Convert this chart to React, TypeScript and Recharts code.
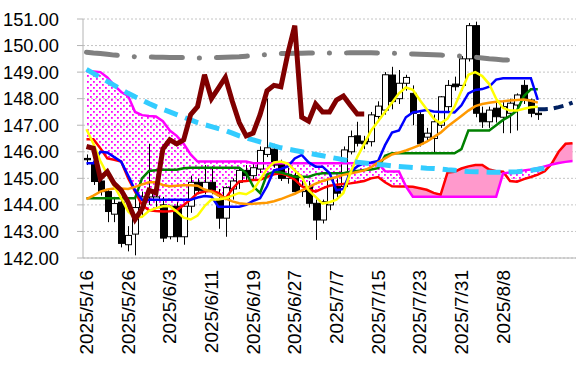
import React from 'react';
import { ComposedChart, XAxis, YAxis, CartesianGrid, Line, Area, Bar } from 'recharts';

const labels = [
  '2025/5/16','2025/5/19','2025/5/20','2025/5/21','2025/5/22','2025/5/23',
  '2025/5/26','2025/5/27','2025/5/28','2025/5/29','2025/5/30','2025/6/2',
  '2025/6/3','2025/6/4','2025/6/5','2025/6/6','2025/6/9','2025/6/10',
  '2025/6/11','2025/6/12','2025/6/13','2025/6/16','2025/6/17','2025/6/18',
  '2025/6/19','2025/6/20','2025/6/23','2025/6/24','2025/6/25','2025/6/26',
  '2025/6/27','2025/6/30','2025/7/1','2025/7/2','2025/7/3','2025/7/4',
  '2025/7/7','2025/7/8','2025/7/9','2025/7/10','2025/7/11','2025/7/14',
  '2025/7/15','2025/7/16','2025/7/17','2025/7/18','2025/7/21','2025/7/22',
  '2025/7/23','2025/7/24','2025/7/25','2025/7/28','2025/7/29','2025/7/30',
  '2025/7/31','2025/8/1','2025/8/4','2025/8/5','2025/8/6','2025/8/7',
  '2025/8/8','2025/8/11','2025/8/12','2025/8/13','2025/8/14','2025/8/15',
  '','','','',''
];

const yTicks = [142, 143, 144, 145, 146, 147, 148, 149, 150, 151];

const opens = [
  145.75,145.55,144.9,144.5,143.65,144.1,142.5,142.9,143.9,144.3,
  144.2,144.0,142.8,143.95,142.8,143.95,144.85,144.55,144.85,144.2,
  143.5,144.6,144.85,145.3,145.1,145.35,145.9,146.1,145.55,145.0,
  145.1,144.5,144.69,144.06,143.43,144.0,144.69,144.69,146.0,146.6,
  146.4,146.38,147.33,147.57,148.89,148.0,148.58,148.2,147.4,146.55,
  146.5,147.0,147.7,148.55,148.5,149.5,150.75,147.45,147.13,147.64,
  147.3,147.45,147.76,148.5,147.95,147.45
];
const highs = [
  145.9,145.7,145.0,144.6,144.3,144.3,143.2,144.3,144.5,146.3,
  144.5,144.3,144.0,144.1,144.0,145.1,145.0,145.5,145.45,144.6,
  144.7,145.0,145.4,145.5,145.6,146.2,148.0,146.3,145.7,145.4,
  145.3,144.9,144.9,144.2,144.2,145.2,145.0,146.2,146.8,147.13,
  146.6,147.5,147.9,149.0,149.2,149.08,148.9,148.5,147.5,146.9,
  147.4,148.1,148.7,148.83,149.6,150.85,150.9,147.7,147.7,147.9,
  147.9,148.0,148.2,148.7,148.0,147.6
];
const lows = [
  145.5,144.75,144.35,143.35,143.35,142.4,142.25,142.1,143.6,144.0,
  143.9,142.6,142.7,142.6,142.5,143.7,144.4,144.4,144.4,143.1,
  142.8,144.2,144.6,144.9,144.9,145.2,145.8,145.4,144.9,144.8,
  144.4,144.3,143.9,142.68,143.3,143.8,144.3,144.5,145.9,146.2,
  146.1,146.2,147.2,147.4,147.6,147.8,148.3,147.0,146.2,146.4,
  145.95,146.9,147.5,148.3,148.3,149.4,147.3,146.9,146.9,147.1,
  146.7,146.7,146.8,147.8,147.3,147.2
];
const closes = [
  145.7,144.88,144.5,143.75,144.05,142.55,142.85,143.9,144.3,144.5,
  144.3,142.75,143.95,142.8,143.95,144.85,144.55,144.85,144.55,143.5,
  144.65,144.9,145.3,145.1,145.4,146.05,146.15,145.5,145.0,145.15,
  144.5,144.7,144.06,143.43,144.12,144.95,144.44,146.07,146.57,146.32,
  146.3,147.39,147.72,148.9,147.89,148.58,148.8,147.45,146.3,146.7,
  147.13,148.07,148.5,148.45,149.5,150.75,147.45,147.13,147.57,147.32,
  147.7,147.83,148.14,147.95,147.45,147.4
];

const spanA = [
  146.47,146.47,146.13,145.75,145.7,145.63,145.0,144.5,144.0,143.8,
  143.77,143.75,143.76,143.8,144.0,144.2,144.44,144.5,144.53,144.45,
  144.23,144.6,144.88,144.9,144.94,144.95,145.05,145.15,145.19,145.1,
  144.95,144.7,144.58,144.5,144.62,144.72,144.76,144.79,144.81,144.85,
  144.9,145.0,145.05,144.85,144.7,144.69,144.69,144.68,144.63,144.57,
  144.45,144.38,145.22,145.25,145.37,145.45,145.5,145.5,145.33,145.27,
  145.25,144.9,144.87,144.97,145.05,145.14,145.27,145.55,146.0,146.3,
  146.32
];
const spanB = [
  149.02,149.02,149.0,148.8,148.5,148.25,148.1,147.5,147.38,147.35,
  147.33,147.15,146.8,146.6,146.3,145.9,145.63,145.63,145.63,145.63,
  145.63,145.63,145.63,145.63,145.57,145.57,145.57,145.57,145.57,145.57,
  145.57,145.57,145.57,145.57,145.57,145.57,145.57,145.57,145.57,145.57,
  145.57,145.57,145.57,145.27,145.26,145.26,144.7,144.31,144.31,144.31,
  144.31,144.31,144.31,144.31,144.31,144.31,144.31,144.31,144.31,144.31,
  145.19,145.22,145.25,145.3,145.33,145.38,145.45,145.52,145.58,145.62,
  145.65
];
const tenkan = [
  145.57,145.57,146.0,145.97,145.8,145.63,145.1,144.55,144.19,144.19,
  144.19,144.19,144.19,144.19,144.19,144.19,144.28,144.33,144.31,143.93,
  143.93,143.93,143.93,144.0,144.15,144.25,144.7,145.3,145.35,145.45,
  145.75,145.88,145.6,145.44,145.44,145.2,144.55,144.6,145.25,145.45,
  145.57,145.6,145.65,146.25,146.72,146.8,147.3,147.48,147.53,147.57,
  147.52,147.5,147.5,147.48,147.75,148.2,148.33,148.36,148.45,148.72,
  148.77,148.77,148.77,148.77,148.77,147.95
];
const kijun = [
  144.25,144.25,144.25,144.25,144.25,144.25,144.25,144.25,145.0,145.28,
  145.3,145.32,145.32,145.32,145.38,145.4,145.4,145.4,145.4,145.4,
  145.4,145.4,145.4,145.2,144.7,144.45,145.15,145.25,145.22,145.15,
  145.06,145.06,145.06,145.15,145.19,145.19,145.19,145.19,145.25,145.28,
  145.31,145.33,145.38,145.85,145.94,145.94,145.94,145.94,145.94,145.94,
  145.94,145.94,145.94,145.94,146.1,146.8,146.8,146.8,146.8,147.0,
  147.2,147.35,147.55,148.1,148.35,148.35
];
const ma5 = [
  146.85,146.3,145.65,145.15,144.7,144.25,143.75,143.52,143.55,143.78,
  143.88,143.95,143.95,143.75,143.52,143.45,143.6,143.95,144.2,144.2,
  144.25,144.35,144.45,144.4,144.55,144.95,145.35,145.6,145.63,145.55,
  145.3,145.05,144.55,144.3,144.05,144.1,144.2,144.45,145.2,145.8,
  146.3,146.8,147.15,147.5,147.85,148.2,148.42,148.33,147.95,147.6,
  147.25,147.07,147.25,147.7,148.3,148.9,149.0,148.85,148.55,148.0,
  147.65,147.55,147.55,147.62,147.68,147.7
];
const ma25 = [
  144.22,144.35,144.5,144.58,144.62,144.62,144.6,144.68,144.77,144.85,
  144.85,144.75,144.7,144.72,144.74,144.74,144.72,144.58,144.5,144.35,
  144.25,144.13,144.06,144.03,144.04,144.06,144.08,144.14,144.22,144.32,
  144.42,144.55,144.67,144.8,144.9,144.98,145.05,145.13,145.18,145.24,
  145.3,145.42,145.6,145.75,145.9,145.97,146.05,146.15,146.25,146.38,
  146.55,146.72,146.95,147.15,147.35,147.55,147.72,147.8,147.85,147.88,
  147.9,147.93,147.95,147.97,147.92,147.85
];
const ma75 = [
  149.1,148.95,148.8,148.65,148.5,148.35,148.2,148.07,147.95,147.82,
  147.7,147.6,147.5,147.4,147.3,147.2,147.1,147.02,146.95,146.87,
  146.8,146.7,146.6,146.52,146.45,146.37,146.3,146.22,146.15,146.1,
  146.05,146.0,145.95,145.9,145.85,145.8,145.75,145.7,145.65,145.61,
  145.58,145.55,145.52,145.5,145.47,145.45,145.43,145.41,145.4,145.38,
  145.37,145.35,145.32,145.3,145.28,145.26,145.25,145.24,145.23,145.23,
  145.23,145.24,145.25,145.27,145.3,145.34,145.38,145.45
];
const ma200 = [
  149.75,149.72,149.7,149.67,149.64,149.62,149.6,149.58,149.57,149.57,
  149.56,149.56,149.55,149.55,149.55,149.54,149.53,149.53,149.54,149.55,
  149.56,149.57,149.58,149.6,149.62,149.64,149.66,149.68,149.7,149.7,
  149.71,149.71,149.72,149.72,149.72,149.72,149.72,149.72,149.73,149.73,
  149.73,149.73,149.72,149.72,149.71,149.7,149.69,149.68,149.67,149.66,
  149.65,149.64,149.63,149.62,149.6,149.58,149.56,149.53,149.5,149.48,
  149.46,149.45,149.43,149.42
];
const chikou = [
  146.2,146.13,145.0,145.25,144.8,144.55,144.1,143.45,143.85,144.55,
  144.45,146.1,146.45,146.3,146.45,147.4,147.7,148.9,148.0,148.4,
  148.8,147.9,147.1,146.6,146.7,147.4,148.3,148.5,148.45,149.7,
  150.75,147.3,147.15,147.8,147.5,147.5,147.95,148.1,147.75,147.42,
  147.42
];
const navyStart = 65;
const navy = [147.6, 147.6, 147.62, 147.68, 147.75, 147.85];

const val = (arr: number[], i: number, start = 0) => {
  const v = arr[i - start];
  return v === undefined ? null : v;
};

const rows = labels.map((lab, i) => {
  const a = spanA[i];
  const b = spanB[i];
  const hasC = i < closes.length;
  return {
    i,
    lab,
    range: hasC ? [lows[i], highs[i]] : null,
    o: hasC ? opens[i] : null,
    h: hasC ? highs[i] : null,
    l: hasC ? lows[i] : null,
    c: hasC ? closes[i] : null,
    solid: [b, Math.max(a, b)],
    dotted: [a, Math.max(a, b)],
    spanA: a,
    spanB: b,
    tenkan: val(tenkan, i),
    kijun: val(kijun, i),
    ma5: val(ma5, i),
    ma25: val(ma25, i),
    ma75: val(ma75, i),
    ma200: val(ma200, i),
    chikou: val(chikou, i),
    navy: val(navy, i, navyStart),
  };
});

const FONT = "'Liberation Sans', Arial, sans-serif";

const Candle = (props: any) => {
  const { x, y, width, height, index } = props;
  const p = props.payload || rows[index];
  if (!p || p.o == null) return null;
  const { o, h, l, c } = p;
  const top = Math.min(y, y + height);
  const hh = Math.abs(height);
  const ppu = hh / (h - l);
  const cx = Math.round(x + width / 2) + 0.5;
  const yO = top + (h - o) * ppu;
  const yC = top + (h - c) * ppu;
  const bTop = Math.min(yO, yC);
  const bH = Math.max(Math.abs(yO - yC), 1);
  const bull = c >= o;
  return (
    <g>
      <line x1={cx} x2={cx} y1={top} y2={top + hh} stroke="#000" strokeWidth={1} />
      <rect x={cx - 3} y={bTop} width={6} height={bH} fill={bull ? '#fff' : '#000'} stroke="#000" strokeWidth={1} />
    </g>
  );
};

const XTick = (props: any) => {
  const { x, payload } = props;
  const lab = labels[payload.value];
  if (!lab) return null;
  return (
    <text transform={`translate(${x + 6.5},270) rotate(-90)`} textAnchor="end" fontSize={19} fontFamily={FONT} fill="#000">
      {lab}
    </text>
  );
};

const YTick = (props: any) => {
  const { y, payload } = props;
  return (
    <text x={3} y={y} dy={6.5} textAnchor="start" fontSize={18.3} fontFamily={FONT} fill="#000">
      {Number(payload.value).toFixed(2)}
    </text>
  );
};

export default function App() {
  return (
    <div style={{ position: 'absolute', left: 0, top: 0 }}>
      <ComposedChart width={588} height={376} data={rows} margin={{ top: 19, right: 12, left: 0, bottom: 0 }}>
        <defs>
          <pattern id="dots" width="6" height="6" patternUnits="userSpaceOnUse">
            <rect x="0" y="0" width="1.8" height="1.8" fill="#ff00ff" />
            <rect x="3" y="3" width="1.8" height="1.8" fill="#ff00ff" />
          </pattern>
        </defs>
        <CartesianGrid vertical={false} stroke="#c4c4c4" strokeDasharray="2 2" />
        <XAxis dataKey="i" type="category" interval={5} height={118} tick={<XTick />} tickLine={false} axisLine={{ stroke: '#b4b4b4' }} />
        <YAxis type="number" domain={[142, 151]} ticks={yTicks} width={83} tick={<YTick />} tickSize={6} tickLine={{ stroke: '#b4b4b4' }} axisLine={{ stroke: '#b4b4b4' }} allowDataOverflow />
        <Area dataKey="dotted" fill="url(#dots)" fillOpacity={1} stroke="none" isAnimationActive={false} dot={false} activeDot={false} />
        <Area dataKey="solid" fill="#ff99cc" fillOpacity={1} stroke="none" isAnimationActive={false} dot={false} activeDot={false} />
        <Bar dataKey="range" shape={(p: any) => <Candle {...p} />} isAnimationActive={false} />
        <Line dataKey="spanA" stroke="#ff0000" strokeWidth={2.5} dot={false} activeDot={false} isAnimationActive={false} />
        <Line dataKey="spanB" stroke="#ff00ff" strokeWidth={2.5} dot={false} activeDot={false} isAnimationActive={false} />
        <Line dataKey="kijun" stroke="#008000" strokeWidth={2.5} dot={false} activeDot={false} isAnimationActive={false} />
        <Line dataKey="tenkan" stroke="#0000ff" strokeWidth={2.5} dot={false} activeDot={false} isAnimationActive={false} />
        <Line dataKey="ma25" stroke="#ff9900" strokeWidth={2.5} dot={false} activeDot={false} isAnimationActive={false} />
        <Line dataKey="ma5" stroke="#ffff00" strokeWidth={2.5} dot={false} activeDot={false} isAnimationActive={false} />
        <Line dataKey="ma75" stroke="#33ccff" strokeWidth={5} strokeDasharray="14 8" dot={false} activeDot={false} isAnimationActive={false} />
        <Line dataKey="ma200" stroke="#808080" strokeWidth={5} strokeDasharray="31 17 0.1 17" strokeLinecap="round" dot={false} activeDot={false} isAnimationActive={false} />
        <Line dataKey="chikou" stroke="#800000" strokeWidth={5} dot={false} activeDot={false} isAnimationActive={false} />
        <Line dataKey="navy" stroke="#002060" strokeWidth={4} strokeDasharray="10 6" dot={false} activeDot={false} isAnimationActive={false} />
      </ComposedChart>
    </div>
  );
}
